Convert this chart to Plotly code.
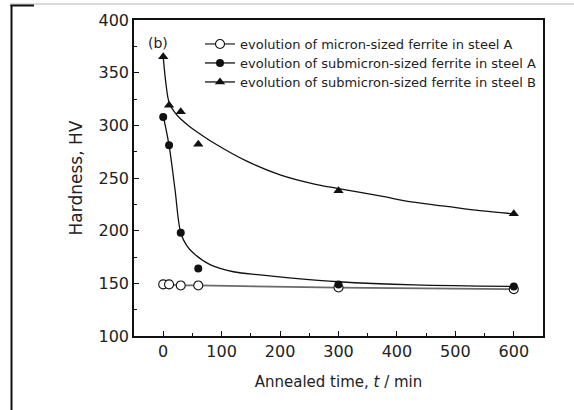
import plotly.graph_objects as go

# ---- data ----
time_min = [0, 10, 30, 60, 300, 600]
micron_A = [149, 149, 148, 148, 146, 144.5]
submicron_A = [308, 281, 198, 164, 149, 147]
submicron_B = [365, 319, 313, 282, 238, 216]

# fitted curves
fitA_x = [0, 10, 20, 30, 40, 52, 81, 120, 166, 220, 300, 430, 600]
fitA_y = [309, 281, 240, 198, 186, 178.5, 167.5, 161, 158, 155, 151.5, 148.5, 147]
fitB_x = [0, 5, 10, 20, 30, 45, 60, 86, 143, 200, 257, 300, 371, 428, 485, 542, 600]
fitB_y = [365, 338, 322, 312, 306, 299, 293, 283.5, 266, 253, 244.5, 240, 233, 227, 223, 219, 216]

names = [
    "evolution of micron-sized ferrite in steel A",
    "evolution of submicron-sized ferrite in steel A",
    "evolution of submicron-sized ferrite in steel B",
]

FONT = "DejaVu Sans"
TXT = "#222222"
W, H = 574, 410
L, R, T, B = 134, 31, 20, 74

fig = go.Figure()

# fitted curves
fig.add_trace(go.Scatter(x=fitA_x, y=fitA_y, mode="lines", line=dict(color="#111", width=1.3, shape="spline"),
                         showlegend=False, hoverinfo="skip"))
fig.add_trace(go.Scatter(x=fitB_x, y=fitB_y, mode="lines", line=dict(color="#111", width=1.3, shape="spline"),
                         showlegend=False, hoverinfo="skip"))

# series 1: connected open circles
fig.add_trace(go.Scatter(x=time_min, y=micron_A, mode="lines+markers", name=names[0], legend="legend",
                         line=dict(color="#6a6a6a", width=1.8),
                         marker=dict(symbol="circle", size=9, color="white", line=dict(color="#111", width=1.1))))
# series 2, 3: markers only (legend shows line+marker via legend-only traces)
fig.add_trace(go.Scatter(x=time_min, y=submicron_A, mode="markers", showlegend=False,
                         marker=dict(symbol="circle", size=8, color="#111")))
fig.add_trace(go.Scatter(x=time_min, y=submicron_B, mode="markers", showlegend=False,
                         marker=dict(symbol="triangle-up", size=9, color="#111")))
fig.add_trace(go.Scatter(x=[None], y=[None], mode="lines+markers", name=names[1], legend="legend2",
                         line=dict(color="#111", width=1.3),
                         marker=dict(symbol="circle", size=8, color="#111")))
fig.add_trace(go.Scatter(x=[None], y=[None], mode="lines+markers", name=names[2], legend="legend3",
                         line=dict(color="#111", width=1.3),
                         marker=dict(symbol="triangle-up", size=9, color="#111")))

pw, ph = W - L - R, H - T - B
def px(X):
    return (X - L) / pw
def py(Y):
    return (H - B - Y) / ph

shapes = [
    dict(type="line", xref="paper", yref="paper", x0=px(10), x1=px(574), y0=py(4), y1=py(4),
         line=dict(color="#b4b4b4", width=1)),
    dict(type="line", xref="paper", yref="paper", x0=px(11.5), x1=px(11.5), y0=py(5), y1=py(410),
         line=dict(color="#111", width=2)),
    dict(type="line", xref="paper", yref="paper", x0=px(10.5), x1=px(34), y0=py(5.5), y1=py(5.5),
         line=dict(color="#111", width=2)),
]

axis_common = dict(
    showline=True, linecolor="#111", linewidth=1.5, mirror=True,
    ticks="inside", ticklen=5, tickwidth=1.2, tickcolor="#111",
    showgrid=False, zeroline=False,
    tickfont=dict(family=FONT, size=16, color=TXT),
)

def leg(top):
    return dict(x=px(200), y=py(top), xanchor="left", yanchor="top",
                bgcolor="rgba(0,0,0,0)", font=dict(family=FONT, size=13, color=TXT), itemwidth=30)

fig.update_layout(
    width=W, height=H,
    margin=dict(l=L, r=R, t=T, b=B),
    paper_bgcolor="white", plot_bgcolor="white",
    font=dict(family=FONT, color=TXT),
    shapes=shapes,
    xaxis=dict(range=[-50, 650], dtick=100, tick0=0,
               minor=dict(dtick=50, ticks="inside", ticklen=3, tickcolor="#111"),
               title=dict(text="Annealed time, <i>t</i> / min", font=dict(family=FONT, size=15, color=TXT), standoff=17),
               **axis_common),
    yaxis=dict(range=[100, 400], dtick=50, tick0=100,
               minor=dict(dtick=25, ticks="inside", ticklen=3, tickcolor="#111"),
               title=dict(text="Hardness, HV", font=dict(family=FONT, size=17, color=TXT), standoff=12),
               **axis_common),
    legend=leg(29), legend2=leg(48), legend3=leg(67),
    annotations=[dict(text="(b)", x=px(158), y=py(43), xref="paper", yref="paper",
                      xanchor="center", yanchor="middle",
                      showarrow=False, font=dict(family=FONT, size=14, color=TXT))],
    showlegend=True,
)

fig.write_html("out.html", config={"displayModeBar": False},
               post_script="document.body.style.margin='0';")
